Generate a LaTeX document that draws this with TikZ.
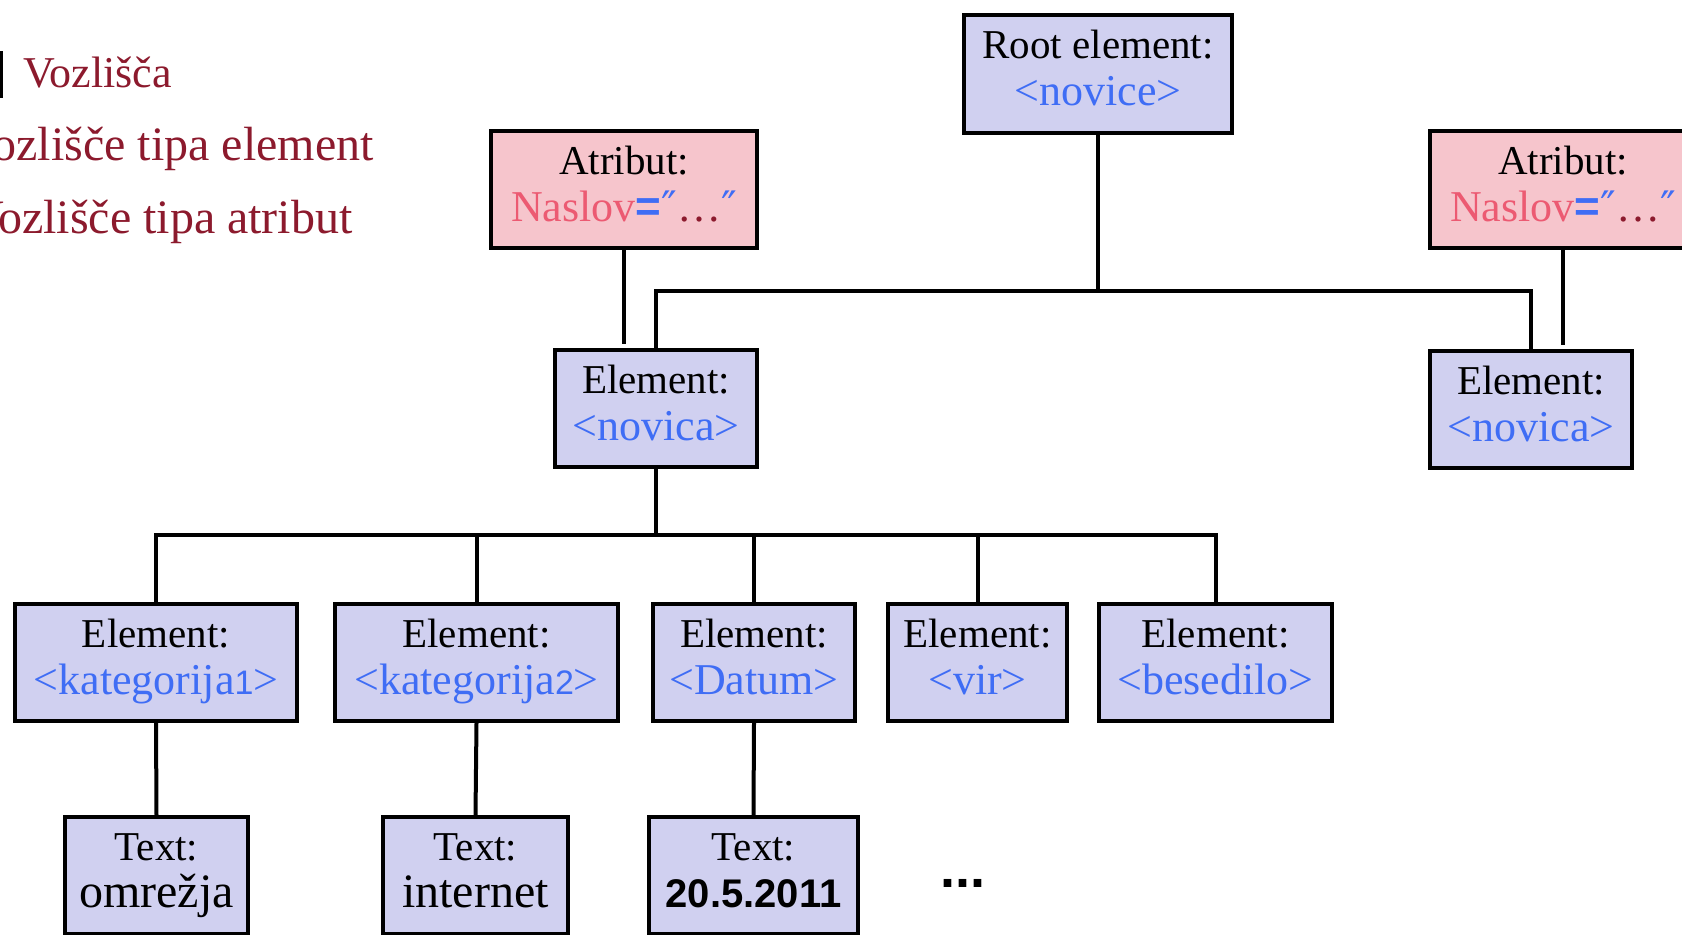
\documentclass[tikz,border=0pt]{standalone}
\usepackage{fontspec}
\setmainfont{Liberation Serif}
\setsansfont{Liberation Sans}
\newfontfamily\primefont{DejaVu Sans}

\definecolor{elfill}{HTML}{D0D0F0}
\definecolor{attfill}{HTML}{F6C5CC}
\definecolor{tagblue}{HTML}{3F6DF5}
\definecolor{naspink}{HTML}{EC5A72}
\definecolor{legred}{HTML}{8C1A2D}

% fixed line struts so every box sets its two lines at the same baselines
\newcommand{\strA}{\rule[-5pt]{0pt}{19pt}}
\newcommand{\strB}{\rule[-6pt]{0pt}{21pt}}
\newcommand{\tagtxt}[1]{\textcolor{tagblue}{#1}}
\newcommand{\lineB}[1]{{\fontsize{22}{23.5}\selectfont\strB #1}}
\newcommand{\lineC}[1]{{\fontsize{24}{23.5}\selectfont\strB #1}}
\newcommand{\smalldigit}[1]{{\sffamily\fontsize{17}{23.5}\selectfont #1}}
\newcommand{\attrval}{\textcolor{naspink}{Naslov}{\sffamily\bfseries\textcolor{tagblue}{=}}{\primefont\fontsize{21}{23.5}\selectfont\textcolor{tagblue}{″}}\textcolor{legred}{…}{\primefont\fontsize{21}{23.5}\selectfont\textcolor{tagblue}{″}}}

\tikzset{
  box/.style={draw=black, line width=2.2pt, align=center, inner sep=0pt,
              font=\fontsize{20.5}{23.5}\selectfont},
  elem/.style={box, fill=elfill},
  attr/.style={box, fill=attfill, minimum width=133pt, minimum height=58.5pt},
  link/.style={line width=2pt},
  legend/.style={inner sep=0pt, text=legred, font=\fontsize{22}{26}\selectfont},
  legendwide/.style={legend, font=\fontsize{24}{28}\selectfont}
}

\begin{document}
\begin{tikzpicture}[x=0.5pt, y=-0.5pt]
\useasboundingbox (0,0) rectangle (1682,934);

% legend
\fill (0,51) rectangle (3,98);
\node[legend, anchor=base west] (leg1) at (23,87) {Vozlišča};
\node[legendwide, anchor=base east] (leg2) at (374,160) {Vozlišče tipa element};
\node[legendwide, anchor=base east] (leg3) at (353,233) {Vozlišče tipa atribut};

% root and attributes
\node[elem, minimum width=134pt, minimum height=59pt] (root) at (1098,74)
  {\strA Root element:\\ \lineB{\tagtxt{<novice>}}};
\node[attr] (attL) at (624,189.5) {\strA Atribut:\\ \lineB{\attrval}};
\node[attr] (attR) at (1563,189.5) {\strA Atribut:\\ \lineB{\attrval}};

% news items
\node[elem, minimum width=101pt, minimum height=58.5pt] (novL) at (656,408.5)
  {\strA Element:\\ \lineB{\tagtxt{<novica>}}};
\node[elem, minimum width=101pt, minimum height=58.5pt] (novR) at (1531,409.5)
  {\strA Element:\\ \lineB{\tagtxt{<novica>}}};

% children of the first item
\node[elem, minimum width=141pt, minimum height=58.5pt] (kat1) at (156,662.5)
  {\strA Element:\\ \lineB{\tagtxt{<kategorija\smalldigit{1}>}}};
\node[elem, minimum width=141.5pt, minimum height=58.5pt] (kat2) at (476.5,662.5)
  {\strA Element:\\ \lineB{\tagtxt{<kategorija\smalldigit{2}>}}};
\node[elem, minimum width=101pt, minimum height=58.5pt] (datum) at (754,662.5)
  {\strA Element:\\ \lineB{\tagtxt{<Datum>}}};
\node[elem, minimum width=89.5pt, minimum height=58.5pt] (vir) at (977.5,662.5)
  {\strA Element:\\ \lineB{\tagtxt{<vir>}}};
\node[elem, minimum width=116.5pt, minimum height=58.5pt] (bes) at (1215.5,662.5)
  {\strA Element:\\ \lineB{\tagtxt{<besedilo>}}};

% text nodes
\node[elem, minimum width=91.5pt, minimum height=58.5pt] (txt1) at (156.5,875.5)
  {\strA Text:\\ \lineC{omrežja}};
\node[elem, minimum width=92.5pt, minimum height=58.5pt] (txt2) at (475.5,875.5)
  {\strA Text:\\ \lineC{internet}};
\node[elem, minimum width=104.5pt, minimum height=58.5pt] (txt3) at (753.5,875.5)
  {\strA Text:\\ {\sffamily\bfseries\fontsize{20}{23.5}\selectfont\strB 20.5.2011}};
\node[inner sep=0pt, font=\sffamily\bfseries\fontsize{27}{27}\selectfont] (more) at (963,883) {...};

% connectors
\coordinate (topbus) at (1098,291);
\draw[link] (root.south) -- (topbus);
\draw[link] (novL.north) |- (topbus) -| (novR.north);
\draw[link, shorten >=2pt] (attL.south) -- (attL.south |- novL.north);
\draw[link, shorten >=2pt] (attR.south) -- (attR.south |- novR.north);

\coordinate (midbus) at (656,535);
\draw[link] (novL.south) -- (midbus);
\foreach \c in {kat1,kat2,datum,vir,bes}
  \draw[link] (\c.north) |- (midbus);

\draw[link] (kat1.south) -- (txt1.north);
\draw[link] (kat2.south) -- (txt2.north);
\draw[link] (datum.south) -- (txt3.north);
\end{tikzpicture}
\end{document}
